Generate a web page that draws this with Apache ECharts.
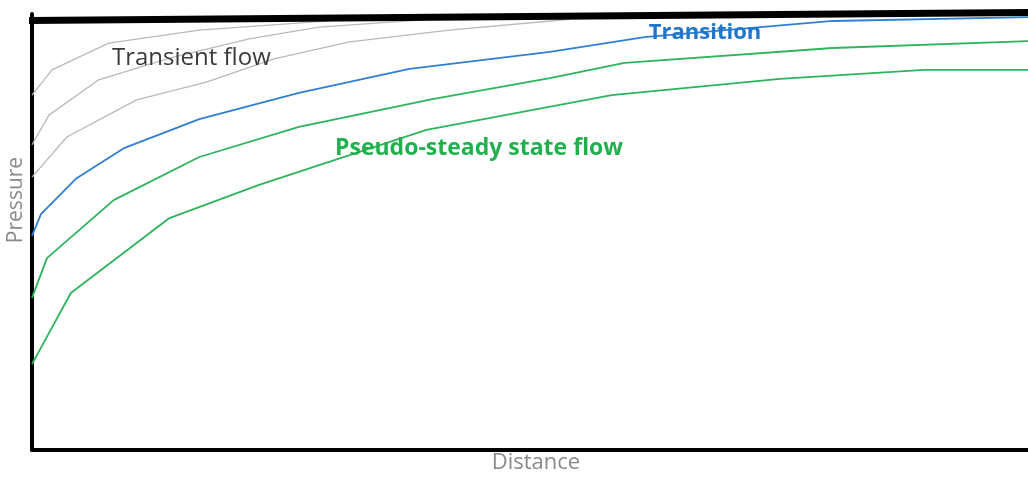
<!DOCTYPE html>
<html>
<head>
<meta charset="utf-8">
<script src="https://cdn.jsdelivr.net/npm/echarts@6/dist/echarts.min.js"></script>
<style>
html,body{margin:0;padding:0;background:#fff;}
#chart{width:1028px;height:477px;}
</style>
</head>
<body>
<div id="chart"></div>
<script>
// Distance (0-100) and Pressure (0-100)
const transient1X = [0, 2.0, 7.7, 16.8, 29.8];
const transient1Y = [81.4, 87.2, 93.3, 96.3, 98.4];
const transient2X = [0, 1.7, 6.7, 13.8, 21.8, 28.8, 38.9];
const transient2Y = [70.0, 76.8, 84.9, 89.9, 94.3, 97.0, 98.6];
const transient3X = [0, 3.5, 10.5, 17.5, 24.3, 31.9, 41.9, 54.0];
const transient3Y = [62.6, 71.8, 80.3, 84.4, 89.7, 93.6, 96.3, 98.8];
const transitionX = [0, 0.9, 4.4, 9.3, 16.8, 26.8, 37.9, 52.0, 61.5, 80.4, 100];
const transitionY = [49.1, 54.1, 62.2, 69.3, 75.9, 81.9, 87.4, 91.3, 94.7, 98.4, 99.3];
const pss1X = [0, 1.5, 8.2, 16.8, 26.8, 40.2, 52.0, 59.5, 80.4, 100];
const pss1Y = [34.9, 44.0, 57.3, 67.2, 74.1, 80.5, 85.3, 88.8, 92.2, 93.8];
const pss2X = [0, 3.9, 13.8, 22.8, 39.6, 58.2, 75.1, 89.6, 100];
const pss2Y = [19.7, 36.0, 53.2, 60.8, 73.4, 81.4, 85.1, 87.2, 87.2];

const xAxisTitle = 'Distance';
const yAxisTitle = 'Pressure';
const labelTransient = 'Transient flow';
const labelTransition = 'Transition';
const labelPss = 'Pseudo-steady state flow';

function zip(xs, ys) { return xs.map((x, i) => [x, ys[i]]); }

const GRAY = '#b9b9b9', BLUE = '#2f7fd3', GREEN = '#2db45c';
function line(name, xs, ys, color, w) {
  return {
    name: name, type: 'line', data: zip(xs, ys), showSymbol: false, smooth: false,
    lineStyle: { color: color, width: w }, itemStyle: { color: color }, silent: true, clip: false
  };
}

const chart = echarts.init(document.getElementById('chart'), null, { renderer: 'canvas' });
chart.setOption({
  animation: false,
  backgroundColor: '#ffffff',
  grid: { left: 32, right: 0, top: 14, bottom: 27 },
  xAxis: {
    type: 'value', min: 0, max: 100,
    axisLine: { show: true, lineStyle: { color: '#000', width: 4 } },
    axisTick: { show: false }, axisLabel: { show: false }, splitLine: { show: false }
  },
  yAxis: {
    type: 'value', min: 0, max: 100,
    axisLine: { show: true, lineStyle: { color: '#000', width: 4 } },
    axisTick: { show: false }, axisLabel: { show: false }, splitLine: { show: false }
  },
  series: [
    line('Transient 1', transient1X, transient1Y, GRAY, 1.3),
    line('Transient 2', transient2X, transient2Y, GRAY, 1.3),
    line('Transient 3', transient3X, transient3Y, GRAY, 1.3),
    line('Transition', transitionX, transitionY, BLUE, 1.8),
    line('PSS 1', pss1X, pss1Y, GREEN, 1.8),
    line('PSS 2', pss2X, pss2Y, GREEN, 1.8)
  ],
  graphic: [
    { type: 'polygon', z: 100, shape: { points: [[29, 17], [1028, 9], [1028, 16], [29, 24]] }, style: { fill: '#000' } },
    { type: 'text', z: 100, x: 16, y: 200, rotation: Math.PI / 2,
      style: { text: yAxisTitle, font: '21px "Open Sans"', fill: '#8a8a8a', textAlign: 'center', textVerticalAlign: 'middle' } },
    { type: 'text', z: 100, x: 536, y: 463,
      style: { text: xAxisTitle, font: '22px "Open Sans"', fill: '#8a8a8a', textAlign: 'center', textVerticalAlign: 'middle' } },
    { type: 'text', z: 100, x: 112, y: 58,
      style: { text: labelTransient, font: '24px "Open Sans"', fill: '#3a3a3a', textAlign: 'left', textVerticalAlign: 'middle' } },
    { type: 'text', z: 100, x: 705, y: 33,
      style: { text: labelTransition, font: 'bold 22px "Open Sans"', fill: '#2176c9', textAlign: 'center', textVerticalAlign: 'middle' } },
    { type: 'text', z: 100, x: 335, y: 148,
      style: { text: labelPss, font: 'bold 23px "Open Sans"', fill: '#22b04e', textAlign: 'left', textVerticalAlign: 'middle' } }
  ]
});
</script>
</body>
</html>
